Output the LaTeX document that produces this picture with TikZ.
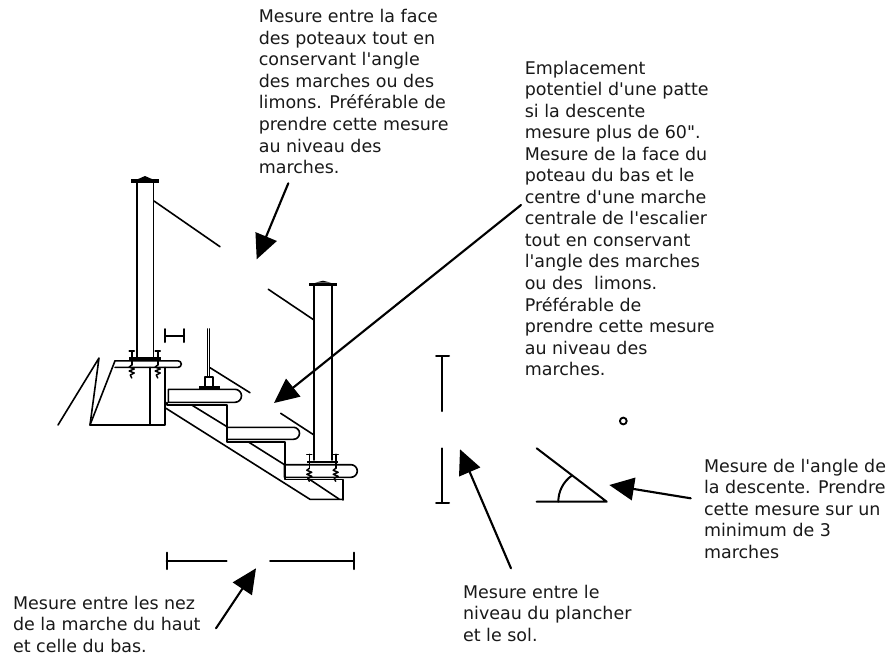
\documentclass[tikz,border=0pt]{standalone}
\usepackage{fontspec}
\newfontfamily\vfont{DejaVu Sans}
\usetikzlibrary{arrows.meta}
\tikzset{
  note/.style={anchor=base west,inner sep=0pt,align=left,font=\vfont\fontsize{13.1pt}{16.16pt}\selectfont,text=black!90},
  thin line/.style={line width=1.2pt,line cap=round,line join=round},
  dim line/.style={line width=1.5pt},
  bold arrow/.style={line width=1.6pt,-{Triangle[length=18.5pt,width=17pt]}}
}
\newcommand{\capscrew}[2]{% x, y of head
  \draw[thin line] (#1-2.5,#2)--(#1+2.5,#2) (#1,#2)--(#1,#2+14);
  \draw[line width=1.1pt] (#1,#2+14)--(#1-2.5,#2+16)--(#1+2.5,#2+18)--(#1-2.5,#2+20)--(#1+2.5,#2+22)--(#1-1.5,#2+24)--(#1,#2+27);
}
\begin{document}
\begin{tikzpicture}[x=0.75pt,y=-0.75pt,thin line]
\useasboundingbox (0,0) rectangle (888,661);
\fill[white] (0,0) rectangle (888,661);
% texts
\node[note] (t1) at (258,173.6) {Mesure entre la face\\des poteaux tout en\\conservant l'angle\\des marches ou des\\limons. Préférable de\\prendre cette mesure\\au niveau des\\marches.};
\node[note] (t2) at (524,375.7) {Emplacement\\potentiel d'une patte\\si la descente\\mesure plus de 60".\\Mesure de la face du\\poteau du bas et le\\centre d'une marche\\centrale de l'escalier\\tout en conservant\\l'angle des marches\\ou des~~limons.\\Préférable de\\prendre cette mesure\\au niveau des\\marches.};
\node[note] (t3) at (703.3,558.2) {Mesure de l'angle de\\la descente. Prendre\\cette mesure sur un\\minimum de 3\\marches};
\node[note] (t4) at (462.3,641.1) {Mesure entre le\\niveau du plancher\\et le sol.};
\node[note] (t5) at (12.3,652.4) {Mesure entre les nez\\de la marche du haut\\et celle du bas.};
% named arrow ends
\coordinate (a1s) at (288.3,183.3); \coordinate (a1e) at (256.7,259.3);
\coordinate (a2s) at (521,205); \coordinate (a2e) at (274,403);
\coordinate (a3s) at (216,628.3); \coordinate (a3e) at (256,568.3);
\coordinate (a4s) at (511,568.3); \coordinate (a4e) at (460,449.3);
\coordinate (a5s) at (690.7,498.3); \coordinate (a5e) at (609.3,485);
\foreach \s/\e in {a1s/a1e,a2s/a2e,a3s/a3e,a4s/a4e,a5s/a5e}
  \draw[bold arrow] (\s) -- (\e);
% upper post
\draw (136.7,357)--(136.7,182.7) (153.3,182.7)--(153.3,357);
\fill (131.3,179.3) rectangle (158.7,182.7);
\fill (137,179.5)--(145,176)--(153,179.5)--cycle;
\fill (129,357) rectangle (160.7,360);
\capscrew{131.7}{351}\capscrew{157.7}{351}
% deck
\draw (115,360.8)--(178,360.8) arc (-90:90:3.3)--(115,367.4);
\draw (115,360.8)--(90,425)--(165,425)--(165,367.4) (150,367.4)--(150,425);
\draw (58,425)--(99,358)--(90,425);
% H
\draw[dim line] (165,329)--(165,342) (184,329)--(184,342) (165,335.5)--(184,335.5);
% small post
\draw (207.3,329)--(207.3,376.7) (209.3,329)--(209.3,376.7);
\draw (205,386.7)--(205,376.7)--(212.7,376.7)--(212.7,386.7);
\fill (199.3,386) rectangle (220,388.7);
% treads
\draw (168.3,389.3)--(235,389.3) arc (-90:90:6.5)--(168.3,402.3)--cycle;
\draw (167,402.5)--(167,405)--(227,405)--(227,441.7)--(285,441.7)--(285,479.3)--(342.7,479.3)--(342.7,500);
\draw (227,427.3)--(293.5,427.3) arc (-90:90:6)--(227,439.3);
\draw (284.5,464.7)--(351,464.7) arc (-90:90:6.3)--(284.5,477.3)--cycle;
\draw (166,408.3)--(310,499.3)--(342.7,499.3);
\draw (191.7,405)--(227,426.7) (248,441.7)--(285,465) (309,479)--(339,499);
% lower post
\draw (314,460)--(314,286) (332,286)--(332,460);
\fill (309.3,282.7) rectangle (336.7,285.7);
\fill (315,282.7)--(323,280.7)--(331,282.7)--cycle;
\fill (306.7,460.5) rectangle (338.3,463.3);
\capscrew{309.3}{454.3}\capscrew{335.7}{454.3}
% rails
\draw (154,201)--(220,246.7);
\draw (268.3,289.3)--(314,320);
\draw (210,367.7)--(250,392.7);
\draw (280.7,413.3)--(314,435);
% vertical dim
\draw[dim line] (436,356)--(449,356) (442.3,356)--(442.3,411);
\draw[dim line] (442.3,448.3)--(442.3,502.7) (436,502.7)--(449,502.7);
% horizontal dim
\draw[dim line] (166.7,552.7)--(166.7,569) (166.7,560.7)--(226.7,560.7);
\draw[dim line] (270,560.7)--(354,560.7) (354,552.7)--(354,569);
% angle
\draw[dim line] (536.7,501.7)--(606.7,501.7)--(536.7,448.3);
\draw[dim line] (558.3,501.7) arc[start angle=180,end angle=234.6,radius=32];
\draw[line width=1.4pt] (623.3,421) circle (3.4);
\end{tikzpicture}
\end{document}
